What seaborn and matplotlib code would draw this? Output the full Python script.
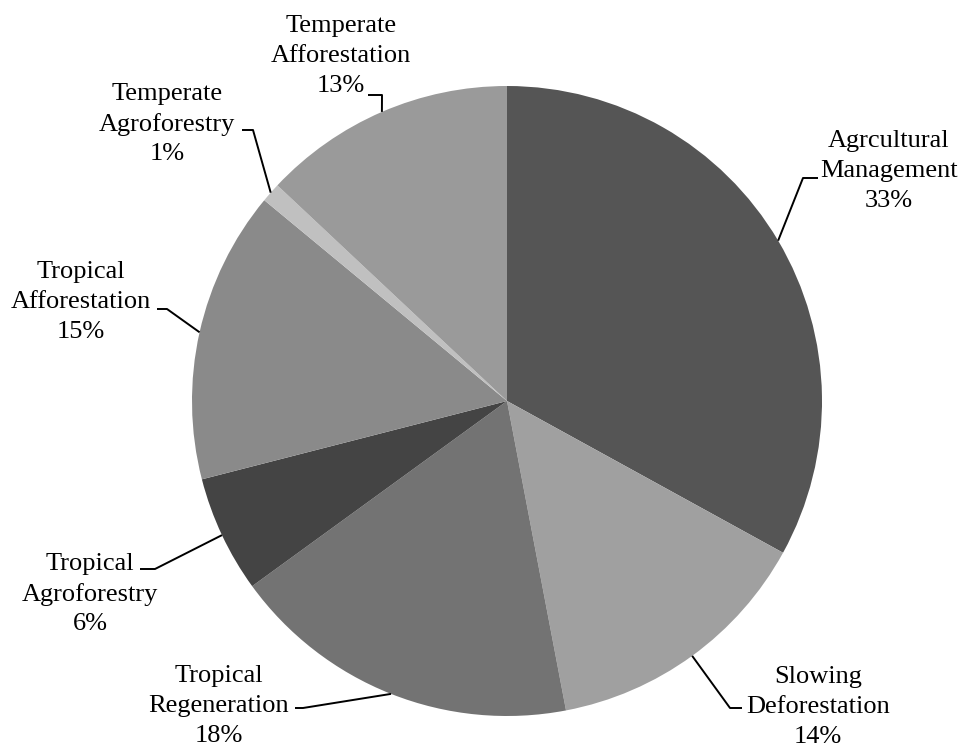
import numpy as np
import matplotlib
matplotlib.use("Agg")
import matplotlib.pyplot as plt
import seaborn as sns

# Share of mitigation potential by pathway
categories = [
    "Agrcultural\nManagement",
    "Slowing\nDeforestation",
    "Tropical\nRegeneration",
    "Tropical\nAgroforestry",
    "Tropical\nAfforestation",
    "Temperate\nAgroforestry",
    "Temperate\nAfforestation",
]
shares = [33, 14, 18, 6, 15, 1, 13]
colors = ["#555555", "#a0a0a0", "#737373", "#444444", "#8a8a8a", "#c0c0c0", "#9a9a9a"]

# label layout in pixel space (origin top-left): text centre, elbow, stub end
label_pos = [(889, 171), (818, 707), (219, 706), (90, 594), (81, 302), (167, 124), (341, 56)]
elbows = [(803, 178), (730, 708), (303, 708), (155, 569), (167, 309), (253, 130), (382, 95)]
stubs = [(818, 178), (742, 708), (295, 708), (140, 569), (157, 309), (242, 130), (368, 95)]

sns.set_theme(style="white")
plt.rcParams["font.family"] = ["Liberation Serif", "DejaVu Serif"]

W, H = 960, 748
fig = plt.figure(figsize=(W / 100, H / 100), dpi=100)
ax = fig.add_axes([0, 0, 1, 1])

cx, cy, r = 507, H - 401, 315
wedges, _ = ax.pie(shares, colors=colors, startangle=90, counterclock=False,
                   center=(cx, cy), radius=r, frame=True,
                   wedgeprops=dict(linewidth=0))
ax.set_xlim(0, W)
ax.set_ylim(0, H)
ax.set_aspect("equal")
ax.axis("off")

for w, name, val, (tx, ty), (ex, ey), (sx, sy) in zip(
        wedges, categories, shares, label_pos, elbows, stubs):
    mid = np.deg2rad((w.theta1 + w.theta2) / 2)
    rx, ry = cx + r * np.cos(mid), cy + r * np.sin(mid)
    ax.plot([rx, ex, sx], [ry, H - ey, H - sy], color="black", lw=1.4,
            solid_capstyle="butt")
    ax.text(tx, H - ty, f"{name}\n{val}%", ha="center", va="center",
            fontsize=19, color="black", linespacing=1.45)

fig.savefig("out.png", dpi=100, facecolor="white")
